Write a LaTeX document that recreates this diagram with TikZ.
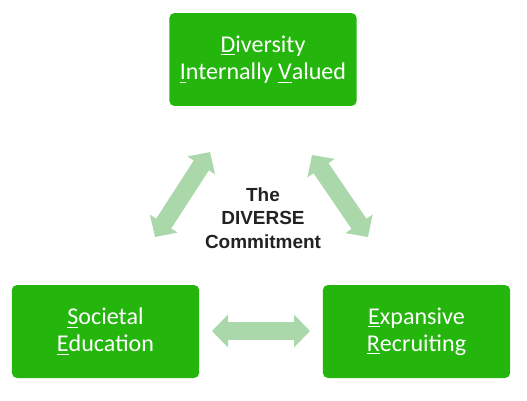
\documentclass[tikz,border=0pt]{standalone}
\usepackage{fontspec}
\setmainfont{Carlito}
\newfontfamily\labelfont{Liberation Sans}
\usepackage{xcolor}
\usetikzlibrary{arrows.meta,positioning}
\definecolor{boxgreen}{RGB}{36,182,12}
\definecolor{arrowgreen}{RGB}{170,216,170}
\definecolor{captext}{RGB}{34,34,34}

\begin{document}
\begin{tikzpicture}[
      x=0.02cm, y=-0.02cm, font=\fontsize{13.7}{15.5}\selectfont,
      pillar/.style={rounded corners=3pt, fill=boxgreen, text=white,
        align=center, minimum width=3.75cm, minimum height=1.86cm, inner sep=2pt},
      caption/.style={font=\labelfont\bfseries\fontsize{10.8}{13.4}\selectfont,
        text=captext, align=center},
      link/.style={draw=arrowgreen, line width=0.36cm,
        {Triangle[width=0.64cm, length=0.32cm]}-{Triangle[width=0.64cm, length=0.32cm]}}]

    \useasboundingbox (0,0) rectangle (527,400);

    % ---- the three pillars ----
    \node[pillar] (div) at (263,59.5)
    {\underline{D}iversity\\\underline{I}nternally \underline{V}alued};
    \node[pillar] (soc) at (105.5,331.5)
    {\underline{S}ocietal\\\underline{E}ducation};
    \node[pillar] (exp) at (416.5,331.5)
    {\underline{E}xpansive\\\underline{R}ecruiting};

    % ---- centre caption ----
    \node[caption] (core) at (263,218) {The\\DIVERSE\\Commitment};

    % ---- two-way arrows between pillars ----
    \coordinate (dsA) at (210,152);
    \coordinate (dsB) at (155,237);
    \coordinate (deA) at (312,155);
    \coordinate (deB) at (368,237);
    \coordinate (seA) at (212,331);
    \coordinate (seB) at (310,331);
    \draw[link] (dsA) -- (dsB);
    \draw[link] (deA) -- (deB);
    \draw[link] (seA) -- (seB);
  \end{tikzpicture}
\end{document}
